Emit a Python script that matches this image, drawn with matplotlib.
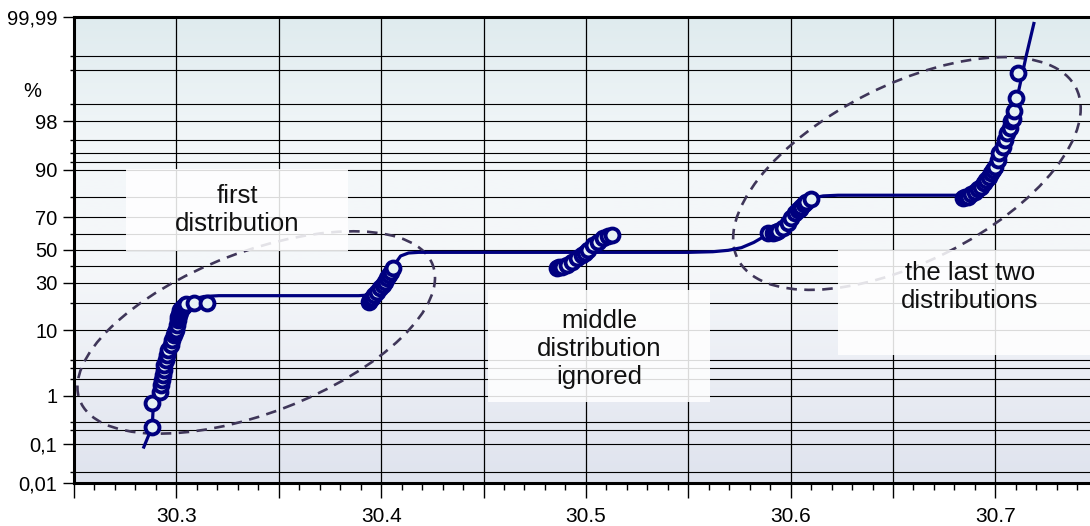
import numpy as np
import matplotlib
matplotlib.use("Agg")
import matplotlib.pyplot as plt
from matplotlib import transforms
from matplotlib.patches import Ellipse, Rectangle
from matplotlib.colors import LinearSegmentedColormap
from matplotlib.ticker import FixedLocator, MultipleLocator, FuncFormatter
from statistics import NormalDist

plt.rcParams['font.family'] = ['Liberation Sans', 'DejaVu Sans']

# probability axis ticks (percent)
prob_major = [0.01, 0.1, 1, 10, 30, 50, 70, 90, 98, 99.99]
prob_labels = ['0,01', '0,1', '1', '10', '30', '50', '70', '90', '98', '99,99']
prob_minor = [0.02, 0.2, 0.3, 2, 3, 4, 20, 40, 60, 80, 92, 94, 96, 99, 99.8, 99.9]

# fitted mixture curve (x, cumulative %)
fit_x = [30.2841, 30.2882, 30.2888, 30.2918, 30.2934, 30.2947, 30.2963, 30.2988,
         30.3006, 30.3022, 30.3046, 30.3085, 30.3134, 30.3207, 30.3890, 30.3939,
         30.3978, 30.4020, 30.4046, 30.4071, 30.4095, 30.4134, 30.4183, 30.5500,
         30.5620, 30.5695, 30.5760, 30.5820, 30.5856, 30.5890, 30.5939, 30.5988,
         30.6037, 30.6076, 30.6110, 30.6159, 30.6232, 30.6827, 30.6890, 30.6939,
         30.6988, 30.7022, 30.7051, 30.7076, 30.7095, 30.7110, 30.7150, 30.7188]
fit_p = [0.083, 0.24, 0.73, 1.19, 2.3, 4.0, 5.5, 8.7,
         13.2, 16.9, 19.9, 21.7, 22.9, 23.3, 23.3, 23.6,
         26.2, 30.6, 35.7, 41.8, 46.2, 48.1, 48.5, 48.5,
         48.9, 49.8, 51.5, 54.8, 57.5, 60.0, 64.0, 68.4,
         73.8, 77.8, 79.7, 80.6, 80.9, 80.9, 81.9, 84.3,
         87.5, 91.3, 94.5, 97.2, 98.73, 99.35, 99.90, 99.985]

# measured samples, one group per distribution
first_x = [30.2882, 30.2882, 30.2918, 30.2926, 30.2931, 30.2934, 30.2938, 30.2942,
           30.2947, 30.2952, 30.2959, 30.2972, 30.2980, 30.2988, 30.2992, 30.2996,
           30.3001, 30.3006, 30.3009, 30.3012, 30.3016, 30.3020, 30.3026, 30.3032,
           30.3040, 30.3048, 30.3085, 30.3150]
first_p = [0.24, 0.72, 1.19, 1.56, 1.9, 2.3, 2.8, 3.3,
           4.0, 4.7, 5.5, 6.5, 7.5, 8.7, 9.4, 10.1,
           11.6, 13.2, 14.1, 15.0, 16.0, 16.9, 17.6, 18.3,
           18.9, 19.4, 19.7, 20.0]

second_x = [30.3939, 30.3947, 30.3955, 30.3967, 30.3979, 30.3996, 30.4009, 30.4020,
            30.4028, 30.4040, 30.4050, 30.4058]
second_p = [20.5, 21.2, 22.0, 23.6, 25.3, 27.1, 28.8, 30.6, 32.6, 34.5, 36.5, 38.5]

middle_x = [30.4858, 30.4870, 30.4882, 30.4906, 30.4931, 30.4955, 30.4980, 30.4994,
            30.5012, 30.5037, 30.5061, 30.5085, 30.5110, 30.5126]
middle_p = [38.5, 39.0, 39.5, 40.5, 42.6, 44.7, 46.8, 48.4,
            50.0, 53.2, 55.3, 57.4, 58.8, 59.5]

third_x = [30.5890, 30.5915, 30.5927, 30.5939, 30.5963, 30.5988, 30.6004, 30.6020,
           30.6037, 30.6045, 30.6053, 30.6065, 30.6077, 30.6101]
third_p = [60.5, 60.9, 61.5, 62.1, 63.5, 66.5, 69.4, 72.1,
           73.8, 74.6, 75.5, 76.8, 78.0, 79.1]

fourth_x = [30.6841, 30.6853, 30.6866, 30.6882, 30.6899, 30.6915, 30.6931, 30.6943,
            30.6955, 30.6968, 30.6980, 30.6988, 30.6996, 30.7012, 30.7020, 30.7037,
            30.7045, 30.7058, 30.7069, 30.7077, 30.7085, 30.7090, 30.7101, 30.7110]
fourth_p = [79.5, 79.9, 80.3, 81.3, 82.4, 83.4, 84.4, 85.6,
            86.8, 87.9, 89.0, 89.9, 90.8, 92.5, 93.9, 95.0,
            96.0, 96.9, 97.4, 98.0, 98.2, 98.7, 99.23, 99.76]

_nd = NormalDist()
_ppf = np.vectorize(_nd.inv_cdf, otypes=[float])
_cdf = np.vectorize(_nd.cdf, otypes=[float])


def probit(p):
    p = np.clip(np.asarray(p, dtype=float) / 100.0, 1e-9, 1 - 1e-9)
    return _ppf(p)


def inv_probit(z):
    return 100.0 * _cdf(np.asarray(z, dtype=float))


NAVY = '#00007f'
DASH = '#3f3659'

fig = plt.figure(figsize=(10.9, 5.26), dpi=100)
ax = fig.add_axes([74 / 1090, 43 / 526, 1023.75 / 1090, 466 / 526])
ax.set_yscale('function', functions=(probit, inv_probit))

# soft vertical gradient behind the plot
bg = LinearSegmentedColormap.from_list(
    'bg', [(0.0, '#dfe3ee'), (0.45, '#f5f7fa'), (0.72, '#f3f7f9'), (1.0, '#dfebee')])
ax.imshow(np.linspace(0, 1, 256).reshape(-1, 1), cmap=bg, origin='lower',
          extent=[0, 1, 0, 1], transform=ax.transAxes, aspect='auto', zorder=0)

ax.set_xlim(30.25, 30.75)
ax.set_ylim(0.01, 99.99)

# axes, ticks and grid
ax.xaxis.set_major_locator(MultipleLocator(0.05))
ax.xaxis.set_minor_locator(MultipleLocator(0.01))
ax.xaxis.set_major_formatter(FuncFormatter(
    lambda v, pos: f'{v:.1f}' if abs(v * 10 - round(v * 10)) < 1e-6 and v > 30.26 else ''))
ax.yaxis.set_major_locator(FixedLocator(prob_major))
ax.yaxis.set_minor_locator(FixedLocator(prob_minor))
ax.set_yticklabels(prob_labels)
ax.yaxis.set_minor_formatter(FuncFormatter(lambda v, pos: ''))

ax.tick_params(axis='y', which='major', length=8, width=1, pad=4, labelsize=14.5)
ax.tick_params(axis='y', which='minor', length=3, width=1)
ax.tick_params(axis='x', which='major', length=11, width=1, pad=6, labelsize=15)
ax.tick_params(axis='x', which='minor', length=5, width=1)

ax.set_axisbelow(True)
ax.grid(which='major', axis='x', color='black', lw=0.9)
ax.grid(which='both', axis='y', color='black', lw=0.8)
for side in ['left', 'bottom', 'top']:
    ax.spines[side].set_linewidth(2.2)
ax.spines['right'].set_visible(False)

# dashed ellipses grouping the distributions (sizes in inches)
def ring(cx, cp, w, h, angle):
    trans = fig.dpi_scale_trans + transforms.ScaledTranslation(cx, cp, ax.transData)
    ax.add_patch(Ellipse((0, 0), w, h, angle=angle, transform=trans, fill=False,
                         ec=DASH, lw=1.9, ls=(0, (4, 2.8)), zorder=2))

ring(30.339, 9.4, 3.78, 1.61, 21)
ring(30.6568, 88.9, 3.79, 1.77, 26.8)

# fitted curve and the samples
ax.plot(fit_x, fit_p, color=NAVY, lw=2.3, zorder=3)
for xs, ps in [(first_x, first_p), (second_x, second_p), (middle_x, middle_p),
               (third_x, third_p), (fourth_x, fourth_p)]:
    ax.plot(xs, ps, ls='none', marker='o', ms=10, mew=2.8, mec=NAVY,
            mfc='#e6f2f4', zorder=4)

# labels on translucent white panels
panels = [
    ((30.2755, 49.4), 30.384, 90.2, 30.3298, 73.8, 'first\ndistribution'),
    ((30.4524, 0.76), 30.5607, 26.2, 30.5066, 5.7, 'middle\ndistribution\nignored'),
    ((30.6232, 4.7), 30.752, 50.0, 30.6876, 27.7, 'the last two\ndistributions'),
]
for (x0, p0), x1, p1, tx, tp, label in panels:
    ax.add_patch(Rectangle((x0, p0), x1 - x0, p1 - p0, fc='white', ec='none',
                           alpha=0.86, zorder=5, clip_on=False))
    ax.text(tx, tp, label, ha='center', va='center', fontsize=18.5,
            linespacing=1.2, color='#111111', zorder=6)

fig.text(32 / 1090, 1 - 92 / 526, '%', ha='center', va='center', fontsize=14.5)

fig.savefig('out.png', dpi=100)
